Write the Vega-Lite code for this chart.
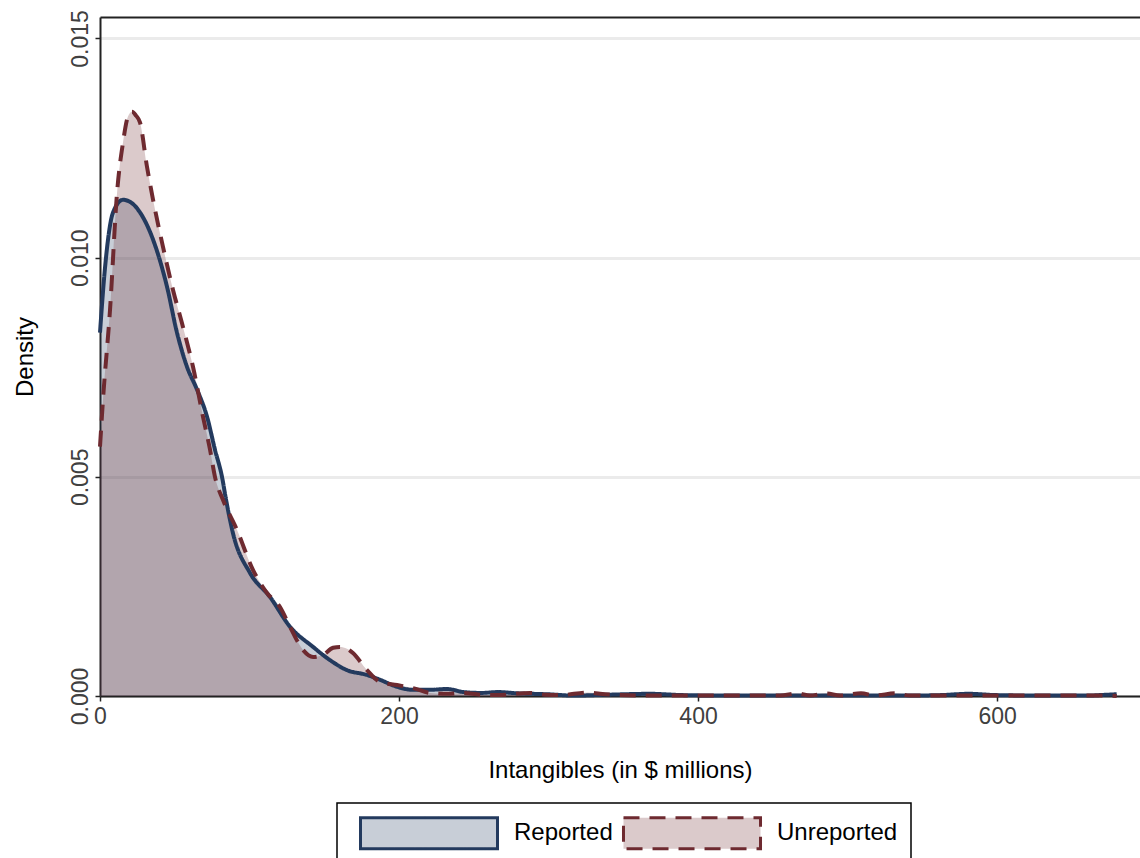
{
  "$schema": "https://vega.github.io/schema/vega-lite/v6.json",
  "width": 1040,
  "height": 679,
  "autosize": {"type": "none"},
  "padding": {"left": 100, "top": 17, "right": 0, "bottom": 162},
  "background": "white",
  "config": {
    "font": "Liberation Sans",
    "view": {"stroke": null},
    "axis": {
      "domainColor": "#222222",
      "domainWidth": 2,
      "tickColor": "#222222",
      "tickWidth": 1.5,
      "tickSize": 5,
      "labelFont": "Liberation Sans",
      "labelFontSize": 23,
      "labelColor": "#404040",
      "titleFont": "Liberation Sans",
      "titleFontSize": 24,
      "titleColor": "black",
      "titleFontWeight": "normal",
      "grid": false,
      "labelFlush": false,
      "labelOverlap": false
    }
  },
  "data": {
    "values": [
      {"g": "Reported", "x": 0, "y": 0.00829},
      {"g": "Reported", "x": 3.3, "y": 0.00975},
      {"g": "Reported", "x": 8.7, "y": 0.01103},
      {"g": "Reported", "x": 15.4, "y": 0.01132},
      {"g": "Reported", "x": 20.7, "y": 0.01126},
      {"g": "Reported", "x": 26.8, "y": 0.01103},
      {"g": "Reported", "x": 35.5, "y": 0.01041},
      {"g": "Reported", "x": 44.8, "y": 0.00934},
      {"g": "Reported", "x": 51.5, "y": 0.00829},
      {"g": "Reported", "x": 58.2, "y": 0.00751},
      {"g": "Reported", "x": 64.9, "y": 0.00699},
      {"g": "Reported", "x": 71.6, "y": 0.00637},
      {"g": "Reported", "x": 76.9, "y": 0.00562},
      {"g": "Reported", "x": 81.6, "y": 0.005},
      {"g": "Reported", "x": 84.3, "y": 0.00448},
      {"g": "Reported", "x": 88.9, "y": 0.00372},
      {"g": "Reported", "x": 100.3, "y": 0.00281},
      {"g": "Reported", "x": 113.7, "y": 0.00226},
      {"g": "Reported", "x": 127.1, "y": 0.00158},
      {"g": "Reported", "x": 142.5, "y": 0.00112},
      {"g": "Reported", "x": 153.8, "y": 0.00082},
      {"g": "Reported", "x": 165.2, "y": 0.00059},
      {"g": "Reported", "x": 178.6, "y": 0.00048},
      {"g": "Reported", "x": 187.3, "y": 0.00037},
      {"g": "Reported", "x": 198.7, "y": 0.00021},
      {"g": "Reported", "x": 209.4, "y": 0.00014},
      {"g": "Reported", "x": 220, "y": 0.00014},
      {"g": "Reported", "x": 232, "y": 0.00016},
      {"g": "Reported", "x": 243, "y": 0.00009},
      {"g": "Reported", "x": 255, "y": 0.00007},
      {"g": "Reported", "x": 266, "y": 0.00009},
      {"g": "Reported", "x": 280, "y": 0.00006},
      {"g": "Reported", "x": 299, "y": 0.00004},
      {"g": "Reported", "x": 317, "y": 0.00001},
      {"g": "Reported", "x": 340, "y": 0.00003},
      {"g": "Reported", "x": 368, "y": 0.00005},
      {"g": "Reported", "x": 390, "y": 0.00002},
      {"g": "Reported", "x": 420, "y": 0.00001},
      {"g": "Reported", "x": 460, "y": 0.00001},
      {"g": "Reported", "x": 500, "y": 0.00001},
      {"g": "Reported", "x": 540, "y": 0.00001},
      {"g": "Reported", "x": 562, "y": 0.00002},
      {"g": "Reported", "x": 581, "y": 0.00005},
      {"g": "Reported", "x": 600, "y": 0.00002},
      {"g": "Reported", "x": 630, "y": 0.00001},
      {"g": "Reported", "x": 660, "y": 0.00001},
      {"g": "Reported", "x": 674, "y": 0.00003},
      {"g": "Reported", "x": 680, "y": 0.00004},
      {"g": "Unreported", "x": 0, "y": 0.00569},
      {"g": "Unreported", "x": 2, "y": 0.00676},
      {"g": "Unreported", "x": 6.7, "y": 0.00881},
      {"g": "Unreported", "x": 11.4, "y": 0.01148},
      {"g": "Unreported", "x": 15.4, "y": 0.01263},
      {"g": "Unreported", "x": 18.7, "y": 0.01322},
      {"g": "Unreported", "x": 21.4, "y": 0.01333},
      {"g": "Unreported", "x": 24.1, "y": 0.01324},
      {"g": "Unreported", "x": 26.8, "y": 0.01308},
      {"g": "Unreported", "x": 31.4, "y": 0.01208},
      {"g": "Unreported", "x": 35.5, "y": 0.01132},
      {"g": "Unreported", "x": 42.1, "y": 0.01025},
      {"g": "Unreported", "x": 48.8, "y": 0.00927},
      {"g": "Unreported", "x": 55.5, "y": 0.00842},
      {"g": "Unreported", "x": 62.2, "y": 0.00751},
      {"g": "Unreported", "x": 68.9, "y": 0.00637},
      {"g": "Unreported", "x": 73.6, "y": 0.00562},
      {"g": "Unreported", "x": 76.9, "y": 0.005},
      {"g": "Unreported", "x": 82.3, "y": 0.00447},
      {"g": "Unreported", "x": 91.6, "y": 0.00379},
      {"g": "Unreported", "x": 102.3, "y": 0.00288},
      {"g": "Unreported", "x": 111.7, "y": 0.00235},
      {"g": "Unreported", "x": 120.4, "y": 0.00203},
      {"g": "Unreported", "x": 127.1, "y": 0.00158},
      {"g": "Unreported", "x": 135.8, "y": 0.00105},
      {"g": "Unreported", "x": 142.5, "y": 0.00089},
      {"g": "Unreported", "x": 149.2, "y": 0.00094},
      {"g": "Unreported", "x": 155.9, "y": 0.0011},
      {"g": "Unreported", "x": 160.5, "y": 0.00112},
      {"g": "Unreported", "x": 165.2, "y": 0.00108},
      {"g": "Unreported", "x": 169.2, "y": 0.00098},
      {"g": "Unreported", "x": 178.6, "y": 0.00059},
      {"g": "Unreported", "x": 187.3, "y": 0.00032},
      {"g": "Unreported", "x": 198.7, "y": 0.00025},
      {"g": "Unreported", "x": 209.4, "y": 0.00018},
      {"g": "Unreported", "x": 220.7, "y": 0.00007},
      {"g": "Unreported", "x": 232, "y": 0.00005},
      {"g": "Unreported", "x": 242.8, "y": 0.00007},
      {"g": "Unreported", "x": 254, "y": 0.00003},
      {"g": "Unreported", "x": 265.6, "y": 0.00002},
      {"g": "Unreported", "x": 287.6, "y": 0.00007},
      {"g": "Unreported", "x": 297.7, "y": 0.00003},
      {"g": "Unreported", "x": 307.7, "y": 0.00002},
      {"g": "Unreported", "x": 326.4, "y": 0.00008},
      {"g": "Unreported", "x": 334.4, "y": 0.00005},
      {"g": "Unreported", "x": 347.8, "y": 0.00002},
      {"g": "Unreported", "x": 368, "y": 0.00001},
      {"g": "Unreported", "x": 401, "y": 0.00001},
      {"g": "Unreported", "x": 435, "y": 0.00001},
      {"g": "Unreported", "x": 455, "y": 0.00001},
      {"g": "Unreported", "x": 466.2, "y": 0.00006},
      {"g": "Unreported", "x": 474.9, "y": 0.00001},
      {"g": "Unreported", "x": 485.6, "y": 0.00006},
      {"g": "Unreported", "x": 495, "y": 0.00001},
      {"g": "Unreported", "x": 509, "y": 0.00006},
      {"g": "Unreported", "x": 518.4, "y": 0.00001},
      {"g": "Unreported", "x": 531.8, "y": 0.00006},
      {"g": "Unreported", "x": 541.8, "y": 0.00001},
      {"g": "Unreported", "x": 575, "y": 0.00001},
      {"g": "Unreported", "x": 602, "y": 0.00001},
      {"g": "Unreported", "x": 635, "y": 0.00001},
      {"g": "Unreported", "x": 669, "y": 0.00001},
      {"g": "Unreported", "x": 680, "y": 0.0}
    ]
  },
  "layer": [
    {
      "mark": {"type": "area", "interpolate": "monotone", "fillOpacity": 0.25},
      "encoding": {
        "x": {
          "field": "x",
          "type": "quantitative",
          "scale": {"domain": [0, 695.6], "nice": false, "zero": false},
          "axis": {
            "orient": "bottom",
            "values": [0, 200, 400, 600],
            "format": "d",
            "labelPadding": 4,
            "title": "Intangibles (in $ millions)",
            "titlePadding": 30
          }
        },
        "y": {
          "field": "y",
          "type": "quantitative",
          "stack": null,
          "scale": {"domain": [0, 0.01549], "nice": false},
          "axis": {
            "values": [0, 0.005, 0.01, 0.015],
            "format": ".3f",
            "labelAngle": -90,
            "labelAlign": "center",
            "labelBaseline": "alphabetic",
            "labelPadding": 8,
            "grid": true,
            "gridColor": "#EBEBEB",
            "gridWidth": 3,
            "title": "Density",
            "titlePadding": 32
          }
        },
        "color": {
          "field": "g",
          "type": "nominal",
          "scale": {"domain": ["Reported", "Unreported"], "range": ["#233A5E", "#6E2A30"]},
          "legend": {
            "orient": "none",
            "legendX": 237,
            "legendY": 786,
            "direction": "horizontal",
            "title": null,
            "symbolType": "M-4.42,-1L4.42,-1L4.42,1L-4.42,1Z",
            "symbolSize": 961,
            "symbolStrokeWidth": 3,
            "symbolOffset": 62,
            "labelFontSize": 24,
            "labelColor": "black",
            "labelOffset": 68,
            "columnPadding": 0,
            "padding": 13,
            "strokeColor": "black",
            "encode": {
              "legend": {"update": {"strokeWidth": {"value": 1.5}}},
              "symbols": {
                "update": {
                  "fill": {"scale": "color", "field": "value"},
                  "fillOpacity": {"value": 0.25},
                  "stroke": {"scale": "color", "field": "value"},
                  "strokeWidth": {"value": 3},
                  "strokeDash": {"scale": "strokeDash", "field": "value"},
                  "opacity": {"value": 1}
                }
              }
            }
          }
        }
      }
    },
    {
      "mark": {"type": "line", "interpolate": "monotone", "strokeWidth": 4},
      "encoding": {
        "x": {
          "field": "x",
          "type": "quantitative",
          "scale": {"domain": [0, 695.6], "nice": false, "zero": false},
          "axis": {"orient": "top", "labels": false, "ticks": false, "grid": false, "title": null, "domain": true}
        },
        "y": {
          "field": "y",
          "type": "quantitative",
          "stack": null
        },
        "color": {"field": "g", "type": "nominal"},
        "strokeDash": {
          "field": "g",
          "type": "nominal",
          "scale": {"domain": ["Reported", "Unreported"], "range": [[1, 0], [16, 10]]},
          "legend": null
        }
      }
    }
  ],
  "resolve": {"axis": {"x": "independent"}}
}
